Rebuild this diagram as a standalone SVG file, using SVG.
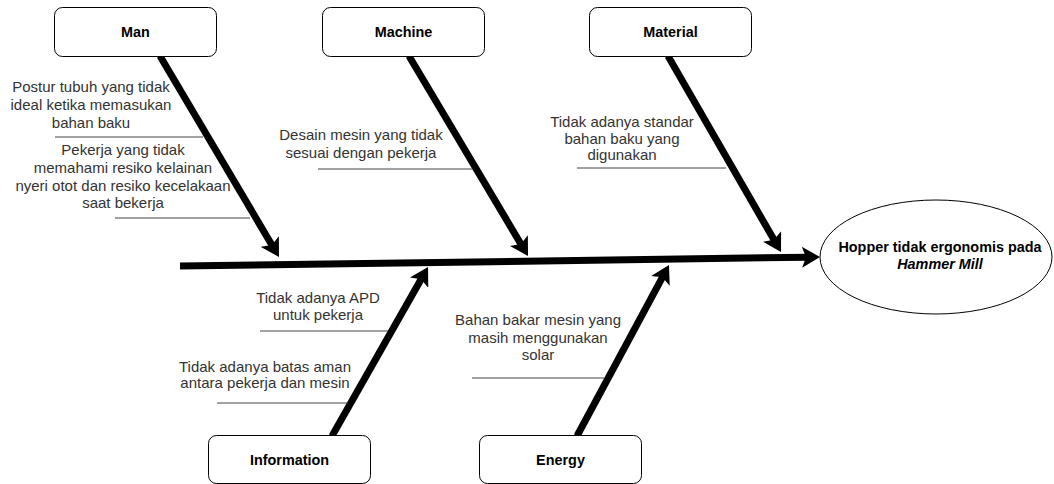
<svg xmlns="http://www.w3.org/2000/svg" width="1054" height="484" viewBox="0 0 1054 484">
<style>
.box{fill:#fff;stroke:#000;stroke-width:1}
.lbl{font-family:"Liberation Sans",Arial,sans-serif;font-size:14.4px;font-weight:bold;fill:#000;text-anchor:middle}
.t{font-family:"Liberation Sans",Arial,sans-serif;font-size:15px;fill:#333;text-anchor:middle}
.ul{stroke:#444;stroke-width:1;fill:none}
.arr{stroke:#000;stroke-width:7;fill:none;marker-end:url(#ah)}
</style>
<defs>
<marker id="ah" markerUnits="userSpaceOnUse" markerWidth="18" markerHeight="21" viewBox="0 0 18 21" refX="6" refY="10.5" orient="auto">
<path d="M0,0 L18,10.5 L0,21 L4,10.5 z" fill="#000"/>
</marker>
</defs>
<rect width="1054" height="484" fill="#fff"/>
<g id="connectors">
<line class="arr" x1="180" y1="266" x2="808" y2="257.2"/>
<line class="arr" x1="160" y1="56" x2="272.9" y2="246.7"/>
<line class="arr" x1="409" y1="56" x2="521.9" y2="245.7"/>
<line class="arr" x1="668" y1="56" x2="775" y2="241.6"/>
<line class="arr" x1="332" y1="436" x2="422.1" y2="277.4"/>
<line class="arr" x1="577" y1="436" x2="663.3" y2="275.6"/>
<line class="ul" x1="55" y1="137" x2="203" y2="137"/>
<line class="ul" x1="115" y1="218" x2="250" y2="218"/>
<line class="ul" x1="318" y1="169" x2="473" y2="169"/>
<line class="ul" x1="577" y1="168" x2="726" y2="168"/>
<line class="ul" x1="260" y1="331" x2="388" y2="331"/>
<line class="ul" x1="217" y1="403" x2="348" y2="403"/>
<line class="ul" x1="472" y1="378" x2="604" y2="378"/>
</g>
<g id="man"><rect class="box" x="54.5" y="7.5" width="162" height="49" rx="8"/><text class="lbl" x="135.5" y="37">Man</text></g>
<g id="machine"><rect class="box" x="322.5" y="7.5" width="162" height="49" rx="8"/><text class="lbl" x="403.5" y="37">Machine</text></g>
<g id="material"><rect class="box" x="589.5" y="7.5" width="162" height="49" rx="8"/><text class="lbl" x="670.5" y="37">Material</text></g>
<g id="information"><rect class="box" x="208.5" y="435.5" width="162" height="48" rx="8"/><text class="lbl" x="289.5" y="465">Information</text></g>
<g id="energy"><rect class="box" x="479.5" y="435.5" width="162" height="48" rx="8"/><text class="lbl" x="560.5" y="465">Energy</text></g>
<g id="effect"><ellipse cx="936" cy="257" rx="116" ry="57" fill="#fff" stroke="#000" stroke-width="1"/>
<text class="lbl" x="940" y="252">Hopper tidak ergonomis pada</text>
<text class="lbl" x="940" y="269" font-style="italic">Hammer Mill</text></g>
<g id="cause-man-1"><text class="t" x="91" y="92">Postur tubuh yang tidak</text><text class="t" x="91" y="110">ideal ketika memasukan</text><text class="t" x="91" y="128">bahan baku</text></g>
<g id="cause-man-2"><text class="t" x="123" y="155">Pekerja yang tidak</text><text class="t" x="123" y="173">memahami resiko kelainan</text><text class="t" x="123" y="191">nyeri otot dan resiko kecelakaan</text><text class="t" x="123" y="208">saat bekerja</text></g>
<g id="cause-machine"><text class="t" x="361" y="140">Desain mesin yang tidak</text><text class="t" x="361" y="158">sesuai dengan pekerja</text></g>
<g id="cause-material"><text class="t" x="622" y="127">Tidak adanya standar</text><text class="t" x="622" y="144">bahan baku yang</text><text class="t" x="622" y="160">digunakan</text></g>
<g id="cause-info-1"><text class="t" x="318" y="303">Tidak adanya APD</text><text class="t" x="318" y="320">untuk pekerja</text></g>
<g id="cause-info-2"><text class="t" x="265" y="372">Tidak adanya batas aman</text><text class="t" x="265" y="388">antara pekerja dan mesin</text></g>
<g id="cause-energy"><text class="t" x="538" y="325">Bahan bakar mesin yang</text><text class="t" x="538" y="343">masih menggunakan</text><text class="t" x="538" y="360">solar</text></g>
</svg>
